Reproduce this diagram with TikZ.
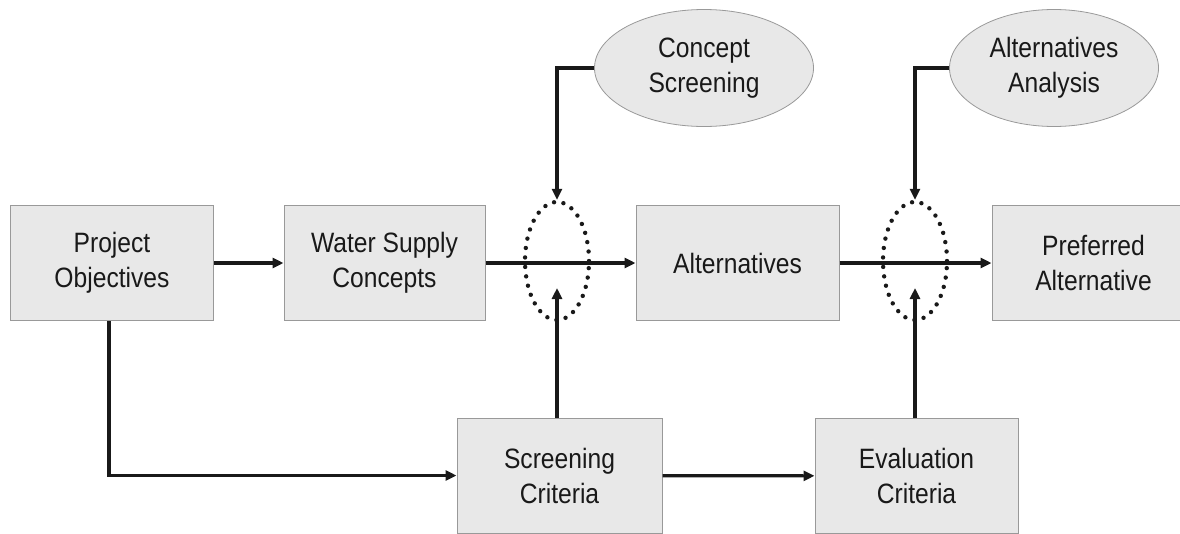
\documentclass[tikz,border=0pt]{standalone}
\usepackage{fontspec}
\setmainfont{Liberation Sans}[FakeStretch=0.88]
\usetikzlibrary{shapes.geometric,arrows.meta}
\tikzset{
  stagebox/.style={draw=black!40, fill=black!9, line width=1pt, minimum width=203pt,
    minimum height=115pt, inner sep=0pt, align=center},
  toolball/.style={ellipse, draw=black!40, fill=black!9, line width=0.8pt,
    minimum height=117pt, inner sep=0pt, align=center},
  gate/.style={ellipse, draw=black!90, line width=4.4pt, line cap=round,
    dash pattern=on 0pt off 9.5pt, minimum width=64pt, minimum height=118pt, inner sep=0pt},
  flow/.style={-{Triangle[length=11pt,width=10pt]}, line width=3.2pt, black!90},
}
\begin{document}
\begin{tikzpicture}[x=1pt,y=-1pt,font=\fontsize{28pt}{35pt}\selectfont,text=black!90]
\useasboundingbox (0,0) rectangle (1180,533);
\clip (0,0) rectangle (1180,533);
% boxes
	\node[stagebox] (po)   at (112,263)    {Project\\Objectives};
	\node[stagebox, minimum width=201pt] (wsc) at (384.5,263) {Water Supply\\Concepts};
	\node[stagebox] (alt)  at (737.5,263)  {Alternatives};
	\node[stagebox] (pref) at (1093.5,263) {Preferred\\Alternative};
	\node[stagebox, minimum width=205pt] (sc) at (559.5,475.5) {Screening\\Criteria};
	\node[stagebox] (ec)   at (916.5,476)  {Evaluation\\Criteria};
% screening steps
	\node[toolball, minimum width=219pt] (cs) at (704,68)  {Concept\\Screening};
	\node[toolball, minimum width=209pt] (aa) at (1054,68) {Alternatives\\Analysis};
% dotted gates
	\node[gate] (g1) at (557,261) {};
	\node[gate] (g2) at (915,261) {};
	\coordinate (g1in) at (557,288);
	\coordinate (g2in) at (915,288);
% arrows
	\draw[flow] (po) -- (wsc);
	\draw[flow] (wsc) -- (alt);
	\draw[flow] (alt) -- (pref);
	\draw[flow] (sc) -- (ec);
	\draw[flow] ([xshift=-3pt]po.south) |- (sc.west);
	\draw[flow] (cs.west) -| (g1.north);
	\draw[flow] (aa.west) -| (g2.north);
	\draw[flow] (g1in |- sc.north) -- (g1in);
	\draw[flow] (g2in |- ec.north) -- (g2in);
\end{tikzpicture}
\end{document}
